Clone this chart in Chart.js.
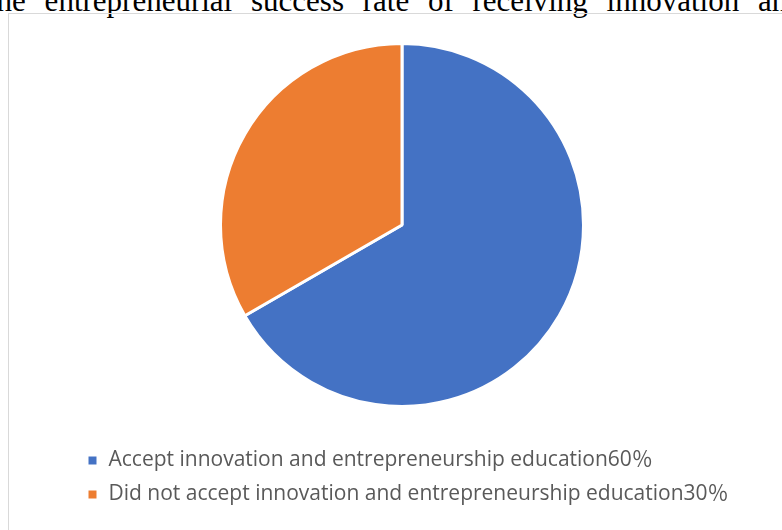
<!DOCTYPE html>
<html lang="en">

<head>
    <meta charset="UTF-8">
    <title>Entrepreneurial success rate</title>
    <script src="https://cdn.jsdelivr.net/npm/chart.js"></script>
    <style>
        html, body { margin: 0; padding: 0; width: 782px; height: 530px; overflow: hidden; background: #fff; }
        #caption {
            position: absolute; left: -12px; top: -14px;
            font-family: "Liberation Serif", "Times New Roman", serif; font-size: 31px; line-height: 30px;
            word-spacing: 11px; color: #000; white-space: nowrap;
        }
        #frame {
            position: absolute; left: 8px; top: 13px; width: 800px; height: 540px;
            border: 1.5px solid #d9d9d9; box-sizing: border-box;
        }
        #wrap { position: absolute; left: 0; top: 0; width: 782px; height: 530px; }
    </style>
</head>

<body>
    <div id="caption">the entrepreneurial success rate of receiving innovation and</div>
    <div id="frame"></div>
    <div id="wrap"><canvas id="pieChart"></canvas></div>

    <script>
        // categorías y valores
        const labels = [
            'Accept innovation and entrepreneurship education60％',
            'Did not accept innovation and entrepreneurship education30％'
        ];
        const values = [60, 30];
        const colors = ['#4472C4', '#ED7D31'];

        const ctx = document.getElementById('pieChart').getContext('2d');
        new Chart(ctx, {
            type: 'pie',
            data: {
                labels: labels,
                datasets: [{
                    data: values,
                    backgroundColor: colors,
                    borderColor: '#ffffff',
                    borderWidth: 3
                }]
            },
            options: {
                responsive: true,
                maintainAspectRatio: false,
                animation: false,
                layout: { padding: { top: 42, left: 74, right: 52, bottom: 15 } },
                plugins: {
                    tooltip: { enabled: false },
                    legend: {
                        position: 'bottom',
                        align: 'start',
                        // título vacío usado como separación
                        title: { display: true, text: '', font: { size: 10 }, padding: { top: 0, bottom: 17 } },
                        labels: {
                            boxWidth: 11,
                            boxHeight: 11,
                            padding: 13,
                            color: '#595959',
                            font: { family: '"Open Sans", "Noto Sans CJK SC", sans-serif', size: 21 }
                        }
                    }
                }
            }
        });
    </script>
</body>

</html>
